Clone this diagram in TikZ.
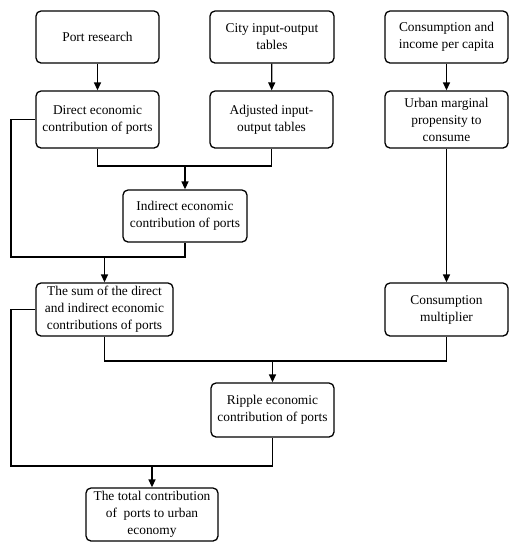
\documentclass[tikz,border=0pt]{standalone}
\usepackage{fontspec}
\setmainfont{Liberation Serif}
\usetikzlibrary{arrows.meta}
\begin{document}
\begin{tikzpicture}[x=1pt,y=-1pt,
  box/.style={draw, rounded corners=5pt, line width=1.3pt, align=center, inner sep=0pt,
    font=\fontsize{13.4}{17}\selectfont},
  conn/.style={line width=1.3pt},
  arr/.style={line width=1.3pt, -{Triangle[length=8pt,width=7pt]}}]
\useasboundingbox (0,0) rectangle (517,550);
\node[box, minimum width=123pt, minimum height=52pt] (n1) at (97.5,37) {Port research};
\node[box, minimum width=124pt, minimum height=52pt] (n2) at (272,37) {City input-output\\tables};
\node[box, minimum width=123pt, minimum height=52pt] (n3) at (446.5,37) {Consumption and\\income per capita};
\node[box, minimum width=123pt, minimum height=57pt] (n4) at (97.5,119.5) {Direct economic\\contribution of ports};
\node[box, minimum width=123pt, minimum height=57pt] (n5) at (271.5,119.5) {Adjusted input-\\output tables};
\node[box, minimum width=123pt, minimum height=57pt] (n6) at (446.5,119.5) {Urban marginal\\propensity to\\consume};
\node[box, minimum width=124pt, minimum height=52pt] (n7) at (185,216) {Indirect economic\\contribution of ports};
\node[box, minimum width=137pt, minimum height=53pt] (n8) at (104.5,309.5) {The sum of the direct\\and indirect economic\\contributions of ports};
\node[box, minimum width=123pt, minimum height=53pt] (n9) at (446.5,309.5) {Consumption\\multiplier};
\node[box, minimum width=123pt, minimum height=54pt] (n10) at (272.5,410) {Ripple economic\\contribution of ports};
\node[box, minimum width=132pt, minimum height=53pt] (n11) at (152,514.5) {The total contribution\\of~ ports to urban\\economy};

\draw[arr] (n1) -- (n4);
\draw[arr] (n2) -- (n5);
\draw[arr] (n3) -- (n6);
\coordinate (j1) at (185,166);
\draw[conn] (n4.south) |- (j1) -| (n5.south);
\draw[arr] (j1) -- (n7);
\coordinate (l1) at (11,257);
\draw[conn] (n4.west) -| (l1) -| (n7.south);
\coordinate (j2) at (104.5,257);
\draw[arr] (j2) -- (n8);
\draw[arr] (n6) -- (n9);
\coordinate (j3) at (272.5,361);
\draw[conn] (n8.south) |- (j3) -| (n9.south);
\draw[arr] (j3) -- (n10);
\coordinate (l2) at (11,466);
\draw[conn] (n8.west) -| (l2) -| (n10.south);
\coordinate (j4) at (152,466);
\draw[arr] (j4) -- (n11);
\end{tikzpicture}
\end{document}
